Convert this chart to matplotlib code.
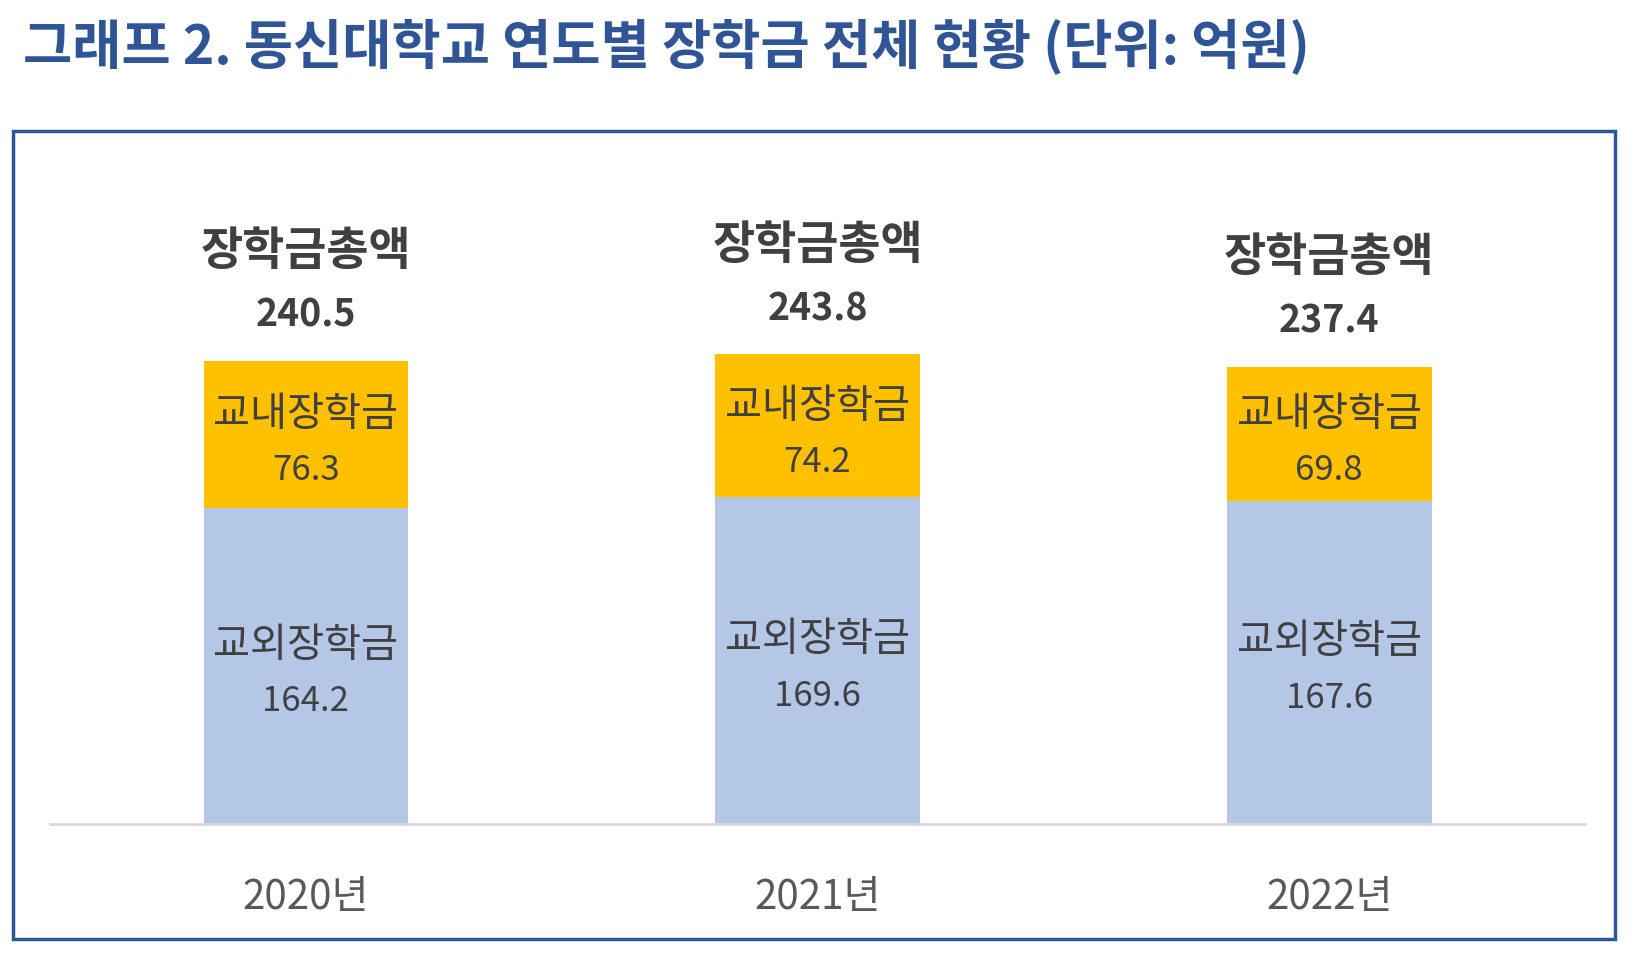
import matplotlib
matplotlib.use("Agg")
import matplotlib.pyplot as plt
from matplotlib.patches import Rectangle

plt.rcParams['font.family'] = ['Noto Sans CJK KR', 'DejaVu Sans']

# 데이터 (단위: 억원)
years = ['2020년', '2021년', '2022년']
outside = [164.2, 169.6, 167.6]   # 교외장학금
inside = [76.3, 74.2, 69.8]       # 교내장학금
totals = [240.5, 243.8, 237.4]    # 장학금총액

W, H = 1643, 971
fig = plt.figure(figsize=(W / 100, H / 100), dpi=100)

# axes placed by pixel box: left 50, right 1585, baseline 824, top 200
ax = fig.add_axes([50 / W, (H - 824) / H, 1535 / W, 624 / H])
x = range(len(years))
ax.bar(x, outside, width=0.40, color='#B4C7E7')
ax.bar(x, inside, width=0.40, bottom=outside, color='#FFC000')

ax.set_xlim(-0.5, 2.5)
ax.set_ylim(0, 324)
for s in ['top', 'right', 'left']:
    ax.spines[s].set_visible(False)
ax.spines['bottom'].set_color('#D9D9D9')
ax.spines['bottom'].set_linewidth(2)
ax.set_yticks([])
ax.set_xticks(list(x))
ax.set_xticklabels(years, fontsize=29, color='#595959')
ax.tick_params(axis='x', length=0, pad=38)

for i in x:
    o, n, t = outside[i], inside[i], totals[i]
    # 교외장학금
    ax.annotate('교외장학금', (i, o / 2), xytext=(0, 15), textcoords='offset points',
                ha='center', va='center', fontsize=29, color='#404040')
    ax.annotate(f'{o:.1f}', (i, o / 2), xytext=(0, -26), textcoords='offset points',
                ha='center', va='center', fontsize=25, color='#404040')
    # 교내장학금
    ax.annotate('교내장학금', (i, o + n / 2), xytext=(0, 14), textcoords='offset points',
                ha='center', va='center', fontsize=29, color='#404040')
    ax.annotate(f'{n:.1f}', (i, o + n / 2), xytext=(0, -26), textcoords='offset points',
                ha='center', va='center', fontsize=25, color='#404040')
    # 총액
    ax.annotate('장학금총액', (i, t), xytext=(0, 78), textcoords='offset points',
                ha='center', va='center', fontsize=33, fontweight='bold', color='#404040')
    ax.annotate(f'{t:.1f}', (i, t), xytext=(0, 33), textcoords='offset points',
                ha='center', va='center', fontsize=27, fontweight='bold', color='#404040')

# frame
fig.add_artist(Rectangle((13 / W, (H - 939) / H), 1602 / W, 808 / H,
                         transform=fig.transFigure, fill=False,
                         edgecolor='#2F5597', linewidth=2.5))

fig.text(23 / W, 1 - 47 / H, '그래프 2. 동신대학교 연도별 장학금 전체 현황 (단위: 억원)',
         ha='left', va='center', fontsize=38.5, fontweight='bold', color='#2F5597')

fig.savefig('out.png', dpi=100)
